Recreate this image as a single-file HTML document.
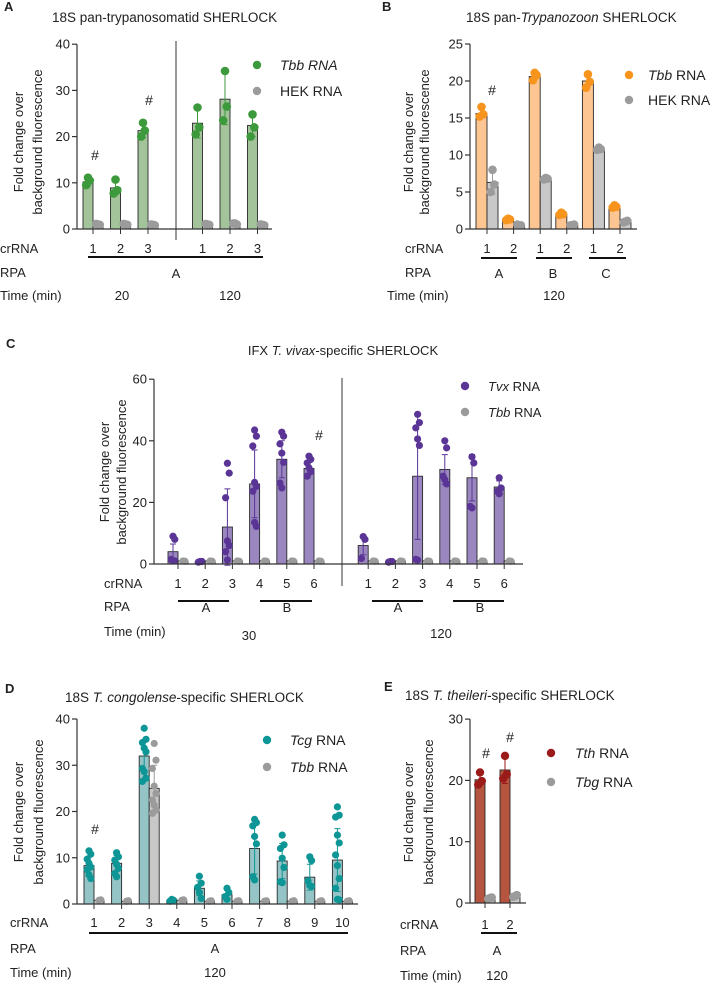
<!DOCTYPE html>
<html><head><meta charset="utf-8"><style>
html,body{margin:0;padding:0;background:#fff}
svg{display:block;font-family:"Liberation Sans",Arial,sans-serif}
text{fill:#222}
</style></head><body>
<svg id="fig" width="719" height="984" viewBox="0 0 719 984" xmlns="http://www.w3.org/2000/svg">
<g font-size="13">
<text x="4" y="11" font-weight="bold">A</text>
<text x="52" y="22" font-size="13.5">18S pan-trypanosomatid SHERLOCK</text>
<g transform="translate(23,142) rotate(-90)" text-anchor="middle"><text>Fold change over</text><text y="19">background fluorescence</text></g>
<text x="0" y="253">crRNA</text>
<text x="0" y="277">RPA</text>
<text x="0" y="300">Time (min)</text>
<text x="176" y="278" text-anchor="middle">A</text>
<text x="122" y="300" text-anchor="middle">20</text>
<text x="230" y="300" text-anchor="middle">120</text>
<text x="95" y="160" text-anchor="middle" font-size="14">#</text>
<text x="149" y="105" text-anchor="middle" font-size="14">#</text>
<text x="280" y="70" font-size="14" font-style="italic">Tbb RNA</text>
<text x="280" y="96" font-size="14">HEK RNA</text>
<text x="382" y="11" font-weight="bold">B</text>
<text x="466" y="22" font-size="13.5">18S pan-<tspan font-style="italic">Trypanozoon</tspan> SHERLOCK</text>
<g transform="translate(413,142) rotate(-90)" text-anchor="middle"><text>Fold change over</text><text y="16">background fluorescence</text></g>
<text x="405" y="253">crRNA</text>
<text x="405" y="277">RPA</text>
<text x="387" y="300">Time (min)</text>
<text x="499" y="278" text-anchor="middle">A</text>
<text x="553" y="278" text-anchor="middle">B</text>
<text x="606" y="278" text-anchor="middle">C</text>
<text x="554" y="300" text-anchor="middle">120</text>
<text x="492" y="95" text-anchor="middle" font-size="14">#</text>
<text x="648" y="80" font-size="14"><tspan font-style="italic">Tbb</tspan> RNA</text>
<text x="648" y="105" font-size="14">HEK RNA</text>
<text x="6" y="348" font-weight="bold">C</text>
<text x="343" y="355" text-anchor="middle">IFX <tspan font-style="italic">T. vivax</tspan>-specific SHERLOCK</text>
<g transform="translate(109,472) rotate(-90)" text-anchor="middle"><text>Fold change over</text><text y="17">background fluorescence</text></g>
<text x="104" y="588">crRNA</text>
<text x="104" y="611">RPA</text>
<text x="104" y="636">Time (min)</text>
<text x="206" y="612" text-anchor="middle">A</text>
<text x="287" y="612" text-anchor="middle">B</text>
<text x="398" y="612" text-anchor="middle">A</text>
<text x="480" y="612" text-anchor="middle">B</text>
<text x="249" y="640" text-anchor="middle">30</text>
<text x="441" y="638" text-anchor="middle">120</text>
<text x="319" y="440" text-anchor="middle" font-size="14">#</text>
<text x="488" y="391"><tspan font-style="italic">Tvx</tspan> RNA</text>
<text x="488" y="417"><tspan font-style="italic">Tbb</tspan> RNA</text>
<text x="5" y="693" font-weight="bold">D</text>
<text x="65" y="702" font-size="13.5">18S <tspan font-style="italic">T. congolense</tspan>-specific SHERLOCK</text>
<g transform="translate(23,812) rotate(-90)" text-anchor="middle"><text>Fold change over</text><text y="20">background fluorescence</text></g>
<text x="10" y="927">crRNA</text>
<text x="10" y="953">RPA</text>
<text x="10" y="977">Time (min)</text>
<text x="215" y="953" text-anchor="middle">A</text>
<text x="215" y="977" text-anchor="middle">120</text>
<text x="95" y="834" text-anchor="middle" font-size="14">#</text>
<text x="290" y="745" font-size="14"><tspan font-style="italic">Tcg</tspan> RNA</text>
<text x="290" y="772" font-size="14"><tspan font-style="italic">Tbb</tspan> RNA</text>
<text x="384" y="691" font-weight="bold">E</text>
<text x="405" y="700" font-size="13.5">18S <tspan font-style="italic">T. theileri</tspan>-specific SHERLOCK</text>
<g transform="translate(413,812) rotate(-90)" text-anchor="middle"><text>Fold change over</text><text y="20">background fluorescence</text></g>
<text x="400" y="929">crRNA</text>
<text x="400" y="955">RPA</text>
<text x="400" y="980">Time (min)</text>
<text x="497" y="955" text-anchor="middle">A</text>
<text x="497" y="980" text-anchor="middle">120</text>
<text x="486" y="758" text-anchor="middle" font-size="14">#</text>
<text x="510" y="742" text-anchor="middle" font-size="14">#</text>
<text x="575" y="758" font-size="14"><tspan font-style="italic">Tth</tspan> RNA</text>
<text x="575" y="787" font-size="14"><tspan font-style="italic">Tbg</tspan> RNA</text>
</g>
<g stroke="#111" stroke-width="2">
<line x1="88" y1="257" x2="263" y2="257"/>
<line x1="481" y1="258" x2="517" y2="258"/>
<line x1="536" y1="258" x2="572" y2="258"/>
<line x1="589" y1="258" x2="626" y2="258"/>
<line x1="178" y1="601" x2="229" y2="601"/>
<line x1="260" y1="601" x2="312" y2="601"/>
<line x1="372" y1="601" x2="423" y2="601"/>
<line x1="453" y1="601" x2="504" y2="601"/>
<line x1="89" y1="933" x2="348" y2="933"/>
<line x1="481" y1="933" x2="517" y2="933"/>
</g>
<g stroke="#333" stroke-width="1">
<line x1="176" y1="41" x2="176" y2="240"/>
<line x1="342" y1="378" x2="342" y2="586"/>
</g>
</svg>
<script>
const A_cats = ['1','2','3','1','2','3'];
const A_yTicks = [0,10,20,30,40];
const A_tbb = [10.2, 8.9, 21.3, 22.9, 28.1, 22.4];
const A_tbbErr = [0.8, 1.5, 1.5, 3.2, 5.5, 2.4];
const A_tbbPts = [[11.1,10.5,9.5],[10.7,8.4,7.7],[23,21.3,20],[26.3,22,20.5],[34.2,26.5,23.5],[24.8,22,20]];
const A_hek = [1, 1, 0.9, 1, 1.1, 0.9];
const A_hekErr = [0.1,0.1,0.1,0.1,0.2,0.1];
const A_hekPts = [[1,0.9,1.1],[1,0.9,1.1],[0.9,0.8,1],[1,0.9,1.1],[1.2,1,1.2],[0.9,0.8,1]];

const B_cats = ['1','2','1','2','1','2'];
const B_yTicks = [0,5,10,15,20,25];
const B_tbb = [15.6, 1.3, 20.6, 2.0, 20.0, 3.0];
const B_tbbErr = [0.6, 0.1, 0.4, 0.2, 0.7, 0.2];
const B_tbbPts = [[16.5,15.5,15.2],[1.4,1.3,1.2],[21.1,20.8,20.1],[2.2,2,1.9],[20.9,19.9,19.1],[3.2,3,2.9]];
const B_hek = [6.3, 0.5, 6.8, 0.5, 10.8, 1.0];
const B_hekErr = [1.6, 0.1, 0.1, 0.1, 0.2, 0.1];
const B_hekPts = [[8,6,5],[0.5,0.5,0.6],[6.9,6.8,6.7],[0.5,0.6,0.5],[11,10.8,10.7],[1,1.1,0.9]];

const C_cats = ['1','2','3','4','5','6','1','2','3','4','5','6'];
const C_yTicks = [0,20,40,60];
const C_tvx = [4, 0.7, 12, 26, 34, 31, 6, 0.7, 28.5, 30.7, 28, 25];
const C_tvxErr = [2.5, 0.2, 12.4, 11, 6, 2, 3, 0.2, 20.5, 4.8, 7.5, 2];
const C_tvxPts = [[9,8,1.5,1,1],[0.8,0.8,0.6],[32.7,29.5,21.5,7.5,6,4,1.3],[43.5,41.5,38.3,26.5,25.2,23.6,13.5,12.2],[42.8,41.5,39,36,33,26.3,24.7],[35,34,32.8,31.2,30,28.5],[8.9,8,1.8],[0.8,0.8,0.6],[48.6,45.9,44.2,40.6,38.5,1.5,1.3],[40,37.7,28.5,27.4,26],[34.8,32.8,18.7,18.2],[28,24.7,23.6,22.8]];
const C_tbb = [1,1,1,1,1,1,1,1,1,1,1,1];
const C_tbbErr = [0.1,0.1,0.1,0.1,0.1,0.1,0.1,0.1,0.1,0.1,0.1,0.1];
const C_tbbPts = [[1,0.9],[1,0.9],[1,0.9],[1,0.9],[1,0.9],[1,0.9],[1,0.9],[1,0.9],[1,0.9],[1,0.9],[1,0.9],[1,0.9]];

const D_cats = ['1','2','3','4','5','6','7','8','9','10'];
const D_yTicks = [0,10,20,30,40];
const D_tcg = [8.3, 8.8, 32, 0.8, 3.4, 2.0, 12, 9.3, 5.8, 9.5];
const D_tcgErr = [1.8, 1.7, 3.5, 0.2, 1.6, 1.0, 5.5, 3.8, 2.8, 6.8];
const D_tcgPts = [[11.5,10.8,9.7,8.8,8,7.4,6.3,5.5],[11.1,10.2,9.5,8.6,7.7,6.6,5.9],[38,35.6,34.9,33.7,32.9,29.3,28.6,27.2,26.5],[1,0.8,0.6],[6,4.5,3.6,2.5,1.2],[3.4,2.5,1.6,1],[18.3,17.6,16.9,14.6,13,5.9,5.2],[14.9,12.8,12,9.9,7.9,4.8,4.6],[10.2,9.4,5,4,3.8],[21,19.2,18.8,14.9,13.2,10.6,8.3,5.5,3.4,1,0.9]];
const D_tbb = [0.8, 0.6, 25, 0.8, 0.6, 0.6, 0.6, 0.6, 0.6, 0.6];
const D_tbbErr = [0.1,0.1,5,0.1,0.1,0.1,0.1,0.1,0.1,0.1];
const D_tbbPts = [[0.8,0.9],[0.6,0.7],[34.7,31.1,29.3,25.5,23.9,22.5,21.4,20.3,19.6],[0.8,0.9],[0.6,0.7],[0.6,0.7],[0.6,0.7],[0.6,0.7],[0.6,0.7],[0.6,0.7]];

const E_cats = ['1','2'];
const E_yTicks = [0,10,20,30];
const E_tth = [20.1, 21.7];
const E_tthErr = [0.9, 2.2];
const E_tthPts = [[21.3,19.9,19.3],[24,21,20.3]];
const E_tbg = [0.8, 1.1];
const E_tbgErr = [0.1, 0.2];
const E_tbgPts = [[0.8,0.9,0.7],[1.1,1.3,1]];

const NS = 'http://www.w3.org/2000/svg';
const svg = document.getElementById('fig');
function mk(tag, attrs, parent) {
  const e = document.createElementNS(NS, tag);
  for (const k in attrs) e.setAttribute(k, attrs[k]);
  (parent || svg).appendChild(e);
  return e;
}
function bandScale(x0, step, splitAt, gap) {
  return i => x0 + i * step + (splitAt != null && i >= splitAt ? gap : 0);
}

function drawPanel(p) {
  const g = mk('g', {});
  
  
  const yS = v => p.zeroY - v * p.ppu;
  const xS = p.xScale;
  const top = yS(p.yTicks[p.yTicks.length - 1]);
  const ya = mk('line', {x1: p.axisX, y1: top, x2: p.axisX, y2: p.zeroY, stroke: '#333', 'stroke-width': 1.2}, g);
  
  
  p.yTicks.forEach(t => {
    const tl = mk('line', {x1: p.axisX - 5, y1: yS(t), x2: p.axisX, y2: yS(t), stroke: '#333', 'stroke-width': 1.2}, g);
    
    
    const tx = mk('text', {x: p.axisX - 7, y: yS(t) + 4.5, 'text-anchor': 'end', 'font-size': 13}, g);
    
    
    tx.textContent = t;
  });
  p.cats.forEach((c, i) => {
    const cx = xS(i);
    const tk = mk('line', {x1: cx, y1: p.zeroY, x2: cx, y2: p.zeroY + 5, stroke: '#333', 'stroke-width': 1}, g);
    
    
    const tl = mk('text', {x: cx, y: p.labelY, 'text-anchor': 'middle', 'font-size': 13}, g);
    
    
    tl.textContent = c;
  });
  p.series.forEach((s, si) => {
    s.vals.forEach((v, i) => {
      const left = si === 0 ? xS(i) - p.bw : xS(i);
      const cx = left + p.bw / 2;
      const b = mk('rect', {x: left, y: yS(v), width: p.bw, height: Math.max(0, p.zeroY - yS(v)), fill: s.bar, stroke: '#2a2a2a', 'stroke-width': 0.9}, g);
      
      
      const e = s.errs[i];
      const eb = mk('path', {d: `M${cx},${yS(v - e)}V${yS(v + e)}M${cx - 3},${yS(v + e)}H${cx + 3}M${cx - 3},${yS(v - e)}H${cx + 3}`, stroke: s.dot, 'stroke-width': 1, fill: 'none'}, g);
      
      
      s.pts[i].forEach((pv, j) => {
        const off = (j % 3 === 0 ? 0 : (j % 3 === 1 ? 1.8 : -1.8));
        const d = mk('circle', {cx: cx + off, cy: yS(pv), r: p.r, fill: s.dot}, g);
        
        
      });
    });
  });
  const xa = mk('line', {x1: p.axisX, y1: p.zeroY, x2: p.xEnd, y2: p.zeroY, stroke: '#333', 'stroke-width': 1.2}, g);
  
  
  p.legend.forEach((l, k) => {
    const c = mk('circle', {cx: l[0], cy: l[1], r: 4.2, fill: p.series[k].dot}, g);
    
    
  });
}

const GREY_BAR = '#c8c8c8', GREY_DOT = '#9b9b9b';
drawPanel({id: 'a', axisX: 77, zeroY: 229, ppu: 4.62, yTicks: A_yTicks, xEnd: 272, cats: A_cats,
  xScale: bandScale(93, 27.5, 3, 27), bw: 10, r: 4.3, labelY: 253,
  series: [{name: 'tbb', vals: A_tbb, errs: A_tbbErr, pts: A_tbbPts, bar: '#a3c39a', dot: '#3c9a3c'},
           {name: 'hek', vals: A_hek, errs: A_hekErr, pts: A_hekPts, bar: GREY_BAR, dot: GREY_DOT}],
  legend: [[257, 65], [257, 91]]});
drawPanel({id: 'b', axisX: 470, zeroY: 229, ppu: 7.4, yTicks: B_yTicks, xEnd: 637, cats: B_cats,
  xScale: bandScale(487, 26.6, null, 0), bw: 11, r: 4.3, labelY: 253,
  series: [{name: 'tbb', vals: B_tbb, errs: B_tbbErr, pts: B_tbbPts, bar: '#fcc592', dot: '#f7941d'},
           {name: 'hek', vals: B_hek, errs: B_hekErr, pts: B_hekPts, bar: GREY_BAR, dot: GREY_DOT}],
  legend: [[629, 75], [629, 100]]});
drawPanel({id: 'c', axisX: 154, zeroY: 564, ppu: 3.08, yTicks: C_yTicks, xEnd: 523, cats: C_cats,
  xScale: bandScale(178, 27.2, 6, 27), bw: 10, r: 3.6, labelY: 588,
  series: [{name: 'tvx', vals: C_tvx, errs: C_tvxErr, pts: C_tvxPts, bar: '#9b87c0', dot: '#5a3596'},
           {name: 'tbb', vals: C_tbb, errs: C_tbbErr, pts: C_tbbPts, bar: GREY_BAR, dot: GREY_DOT}],
  legend: [[465, 386], [465, 412]]});
drawPanel({id: 'd', axisX: 77, zeroY: 904, ppu: 4.625, yTicks: D_yTicks, xEnd: 358, cats: D_cats,
  xScale: bandScale(94, 27.6, null, 0), bw: 10, r: 3.6, labelY: 927,
  series: [{name: 'tcg', vals: D_tcg, errs: D_tcgErr, pts: D_tcgPts, bar: '#94c4c6', dot: '#0e9595'},
           {name: 'tbb', vals: D_tbb, errs: D_tbbErr, pts: D_tbbPts, bar: GREY_BAR, dot: GREY_DOT}],
  legend: [[267, 740], [267, 767]]});
drawPanel({id: 'e', axisX: 470, zeroY: 903, ppu: 6.13, yTicks: E_yTicks, xEnd: 526, cats: E_cats,
  xScale: bandScale(485, 25, null, 0), bw: 10, r: 4.2, labelY: 929,
  series: [{name: 'tth', vals: E_tth, errs: E_tthErr, pts: E_tthPts, bar: '#b5553f', dot: '#9b1b1b'},
           {name: 'tbg', vals: E_tbg, errs: E_tbgErr, pts: E_tbgPts, bar: GREY_BAR, dot: GREY_DOT}],
  legend: [[551, 753], [551, 782]]});
</script>
</body></html>
